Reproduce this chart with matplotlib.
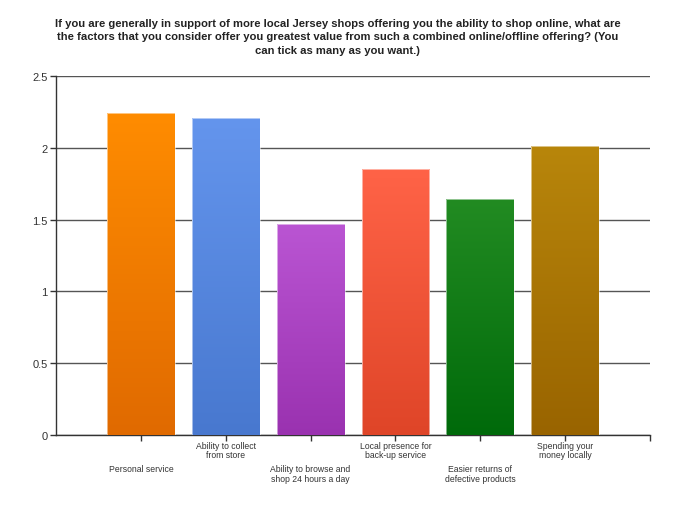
import numpy as np
import matplotlib.pyplot as plt
from matplotlib.colors import LinearSegmentedColormap

plt.rcParams['font.family'] = ['Liberation Sans', 'DejaVu Sans']

# data
categories = ['Personal service', 'Ability to collect\nfrom store',
              'Ability to browse and\nshop 24 hours a day',
              'Local presence for\nback-up service',
              'Easier returns of\ndefective products',
              'Spending your\nmoney locally']
values = [2.24, 2.21, 1.47, 1.85, 1.64, 2.01]

top_colors = ['#FF8C00', '#6495ED', '#BA55D3', '#FF6347', '#228B22', '#B8860B']
bottom_colors = ['#E06A00', '#4878CF', '#9A32B0', '#DF4528', '#006A0A', '#996400']

title = ('If you are generally in support of more local Jersey shops offering you the ability to shop online, what are\n'
         'the factors that you consider offer you greatest value from such a combined online/offline offering? (You\n'
         'can tick as many as you want.)')

fig = plt.figure(figsize=(6.75, 5.06), dpi=100)
ax = fig.add_axes([0.083, 0.138, 0.88, 0.71])

x = np.arange(len(categories))
bars = ax.bar(x, values, width=0.8, color='none', edgecolor='none', zorder=3)

# gradient fill, light at top, dark at bottom
grad = np.linspace(0, 1, 256).reshape(-1, 1)
for b, c_top, c_bot in zip(bars, top_colors, bottom_colors):
    cmap = LinearSegmentedColormap.from_list('g', [c_bot, c_top])
    x0, w, h = b.get_x(), b.get_width(), b.get_height()
    im = ax.imshow(grad, cmap=cmap, aspect='auto', origin='lower',
                   extent=[x0, x0 + w, 0, h], zorder=3)
    im.set_clip_path(b)
    ax.add_patch(plt.Rectangle((x0, 0), w, h, fill=False,
                               edgecolor='white', lw=0.6, alpha=0.6, zorder=4))

ax.set_xlim(-1, 6)
ax.set_ylim(0, 2.5)
ax.set_yticks([0, 0.5, 1, 1.5, 2, 2.5])
ax.set_yticklabels(['0', '0.5', '1', '1.5', '2', '2.5'])
ax.yaxis.grid(True, color='#555555', lw=1.0, zorder=0)
ax.set_axisbelow(True)

ax.set_xticks(list(x) + [6])
ax.set_xticklabels([''] * (len(categories) + 1))
ax.tick_params(axis='x', length=4, width=1, color='#333333', direction='out')
ax.tick_params(axis='y', length=4, width=1, color='#333333', labelsize=8,
               labelcolor='#333333', pad=2)

for s in ['top', 'right']:
    ax.spines[s].set_visible(False)
for s in ['left', 'bottom']:
    ax.spines[s].set_color('#333333')
    ax.spines[s].set_linewidth(1.0)

for i, lab in enumerate(categories):
    off = -4 if i % 2 == 1 else -21
    ax.annotate(lab, (i, 0), xycoords=('data', 'axes fraction'),
                xytext=(0, off), textcoords='offset points',
                ha='center', va='top', fontsize=6.2, color='#333333',
                linespacing=1.1)

fig.text(0.5, 0.962, title, ha='center', va='top', fontsize=8.1,
         fontweight='bold', color='#222222', linespacing=1.4)

fig.savefig('out.png', dpi=100)
